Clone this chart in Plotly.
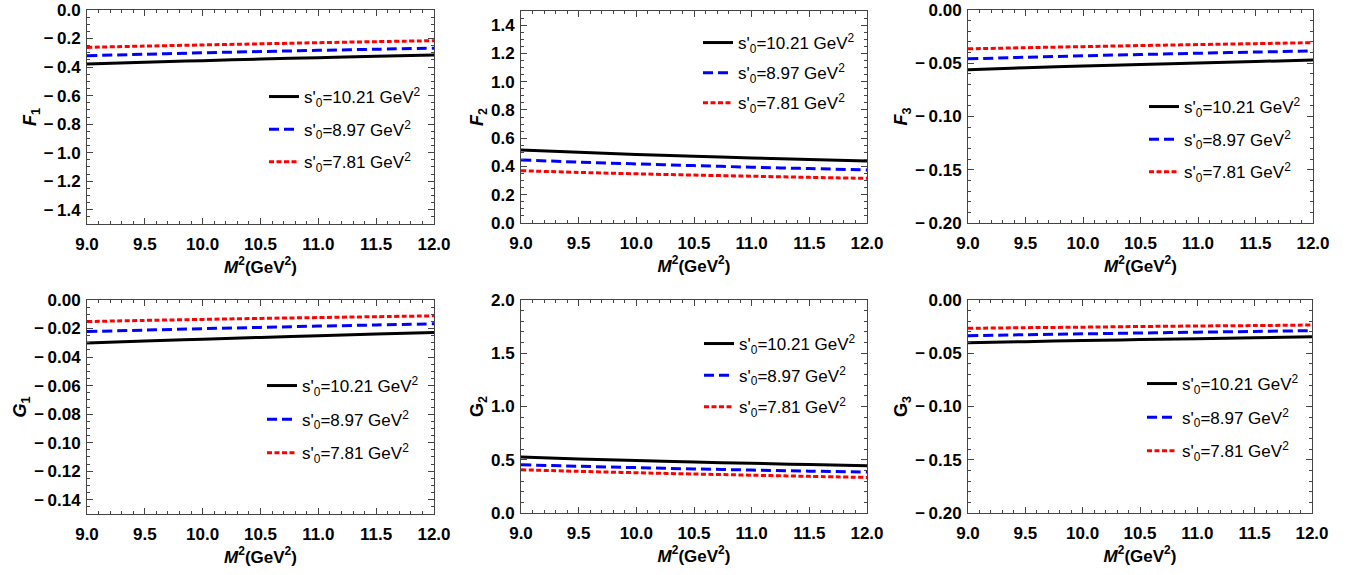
import plotly.graph_objects as go

M2 = [9.0, 9.5, 10.0, 10.5, 11.0, 11.5, 12.0]
series_names = ["s'<sub>0</sub>=10.21 GeV<sup>2</sup>",
                "s'<sub>0</sub>=8.97 GeV<sup>2</sup>",
                "s'<sub>0</sub>=7.81 GeV<sup>2</sup>"]

F1_a = [-0.378, -0.366, -0.355, -0.344, -0.334, -0.324, -0.315]
F1_b = [-0.320, -0.310, -0.300, -0.291, -0.283, -0.275, -0.268]
F1_c = [-0.262, -0.253, -0.245, -0.237, -0.229, -0.222, -0.215]

F2_a = [0.517, 0.500, 0.485, 0.472, 0.460, 0.449, 0.439]
F2_b = [0.446, 0.431, 0.418, 0.406, 0.395, 0.385, 0.375]
F2_c = [0.370, 0.358, 0.348, 0.339, 0.331, 0.323, 0.316]

F3_a = [-0.0560, -0.0542, -0.0526, -0.0511, -0.0497, -0.0484, -0.0470]
F3_b = [-0.0458, -0.0444, -0.0430, -0.0418, -0.0406, -0.0395, -0.0385]
F3_c = [-0.0365, -0.0354, -0.0344, -0.0334, -0.0325, -0.0316, -0.0307]

G1_a = [-0.0302, -0.0288, -0.0275, -0.0262, -0.0250, -0.0239, -0.0228]
G1_b = [-0.0221, -0.0211, -0.0201, -0.0192, -0.0183, -0.0175, -0.0167]
G1_c = [-0.0151, -0.0143, -0.0136, -0.0129, -0.0123, -0.0117, -0.0111]

G2_a = [0.525, 0.508, 0.493, 0.479, 0.466, 0.455, 0.444]
G2_b = [0.453, 0.439, 0.426, 0.414, 0.403, 0.393, 0.384]
G2_c = [0.406, 0.391, 0.378, 0.366, 0.355, 0.344, 0.334]

G3_a = [-0.0401, -0.0391, -0.0381, -0.0372, -0.0363, -0.0354, -0.0345]
G3_b = [-0.0335, -0.0326, -0.0318, -0.0310, -0.0302, -0.0295, -0.0288]
G3_c = [-0.0266, -0.0260, -0.0255, -0.0249, -0.0244, -0.0240, -0.0235]

# y tick values per panel
F1_ticks = [-1.4, -1.2, -1.0, -0.8, -0.6, -0.4, -0.2, 0.0]
F2_ticks = [0.0, 0.2, 0.4, 0.6, 0.8, 1.0, 1.2, 1.4]
F3_ticks = [-0.20, -0.15, -0.10, -0.05, 0.00]
G1_ticks = [-0.14, -0.12, -0.10, -0.08, -0.06, -0.04, -0.02, 0.00]
G2_ticks = [0.0, 0.5, 1.0, 1.5, 2.0]
G3_ticks = [-0.20, -0.15, -0.10, -0.05, 0.00]
x_ticks = [9.0, 9.5, 10.0, 10.5, 11.0, 11.5, 12.0]


def label(v, d):
    s = f"{abs(v):.{d}f}"
    return ("\u2212\u2009" + s) if v < -1e-12 else s


panels = [
    dict(data=[F1_a, F1_b, F1_c], title="<b><i>F</i><sub>1</sub></b>", yrange=[-1.5, 0], ticks=F1_ticks, minor=0.05, dec=1),
    dict(data=[F2_a, F2_b, F2_c], title="<b><i>F</i><sub>2</sub></b>", yrange=[0, 1.5], ticks=F2_ticks, minor=0.05, dec=1),
    dict(data=[F3_a, F3_b, F3_c], title="<b><i>F</i><sub>3</sub></b>", yrange=[-0.2, 0], ticks=F3_ticks, minor=0.01, dec=2),
    dict(data=[G1_a, G1_b, G1_c], title="<b><i>G</i><sub>1</sub></b>", yrange=[-0.15, 0], ticks=G1_ticks, minor=0.005, dec=2),
    dict(data=[G2_a, G2_b, G2_c], title="<b>G<sub>2</sub></b>", yrange=[0, 2.0], ticks=G2_ticks, minor=0.1, dec=1),
    dict(data=[G3_a, G3_b, G3_c], title="<b>G<sub>3</sub></b>", yrange=[-0.2, 0], ticks=G3_ticks, minor=0.01, dec=2),
]

W, H = 1359, 575
xdom_px = [(87, 434), (521, 867), (968, 1313), (87, 434), (521, 867), (968, 1312)]
ydom_px = [(10, 224), (11, 223), (10, 223), (300, 514), (300, 513), (300, 513)]
# legend: text-start x, first-row center y, row spacing
leg_px = [(302, 95, 33.5), (736, 41, 31), (1182, 105, 33.5), (300, 384, 34.5), (737, 342, 32.5), (1180, 382, 34.5)]

styles = [dict(color="black", dash="solid", width=3),
          dict(color="#0000ff", dash="10px,5px", width=3),
          dict(color="#ff0000", dash="5px,2.5px", width=3)]

font_family = "Liberation Sans, Arial, sans-serif"
fig = go.Figure()
layout = dict(width=W, height=H, margin=dict(l=0, r=0, t=0, b=0, autoexpand=False),
              paper_bgcolor="white", plot_bgcolor="white",
              font=dict(family=font_family, color="black"))

for i, p in enumerate(panels):
    n = i + 1
    xa = "x" if n == 1 else f"x{n}"
    ya = "y" if n == 1 else f"y{n}"
    lg = "legend" if n == 1 else f"legend{n}"
    for j, (vals, name) in enumerate(zip(p["data"], series_names)):
        fig.add_trace(go.Scatter(x=M2, y=vals, mode="lines", name=name,
                                 line=dict(shape="spline", **styles[j]),
                                 xaxis=xa, yaxis=ya, legend=lg,
                                 legendgroup=f"g{n}_{j}"))
    x0, x1 = xdom_px[i]
    y0, y1 = ydom_px[i]
    common = dict(showline=True, linecolor="#444", linewidth=1, mirror="ticks",
                  ticks="inside", tickcolor="#444", ticklen=6, tickwidth=1,
                  showgrid=False, zeroline=False, automargin=False,
                  tickfont=dict(family=font_family, size=17, color="black", weight="bold"))
    layout["xaxis" if n == 1 else f"xaxis{n}"] = dict(
        domain=[x0 / W, x1 / W], anchor=ya, range=[9, 12],
        tickmode="array", tickvals=x_ticks, ticktext=[f"{v:.1f}" for v in x_ticks],
        minor=dict(ticks="inside", dtick=0.1, tick0=9, ticklen=3, tickcolor="#444"),
        title=dict(text="<b><i>M</i><sup>2</sup>(GeV<sup>2</sup>)</b>", standoff=6,
                   font=dict(family=font_family, size=17)),
        ticklabelstandoff=5, **common)
    layout["yaxis" if n == 1 else f"yaxis{n}"] = dict(
        domain=[1 - y1 / H, 1 - y0 / H], anchor=xa, range=p["yrange"],
        tickmode="array", tickvals=p["ticks"], ticktext=[label(v, p["dec"]) for v in p["ticks"]],
        minor=dict(ticks="inside", dtick=p["minor"], tick0=0, ticklen=3, tickcolor="#444"),
        title=dict(text=p["title"], standoff=2, font=dict(family=font_family, size=18)),
        ticklabelstandoff=2, **common)
    tx, ty, gap = leg_px[i]
    layout[lg] = dict(x=(tx - 38) / W, y=1 - (ty - 16) / H, xanchor="left", yanchor="top",
                      bgcolor="rgba(0,0,0,0)", borderwidth=0,
                      font=dict(family=font_family, size=17, color="black"),
                      traceorder="grouped", tracegroupgap=max(gap - 26, 0))

fig.update_layout(**layout)
fig.write_html("out.html", config={"displayModeBar": False},
               post_script="document.body.style.margin='0px';document.body.style.overflow='hidden';")
